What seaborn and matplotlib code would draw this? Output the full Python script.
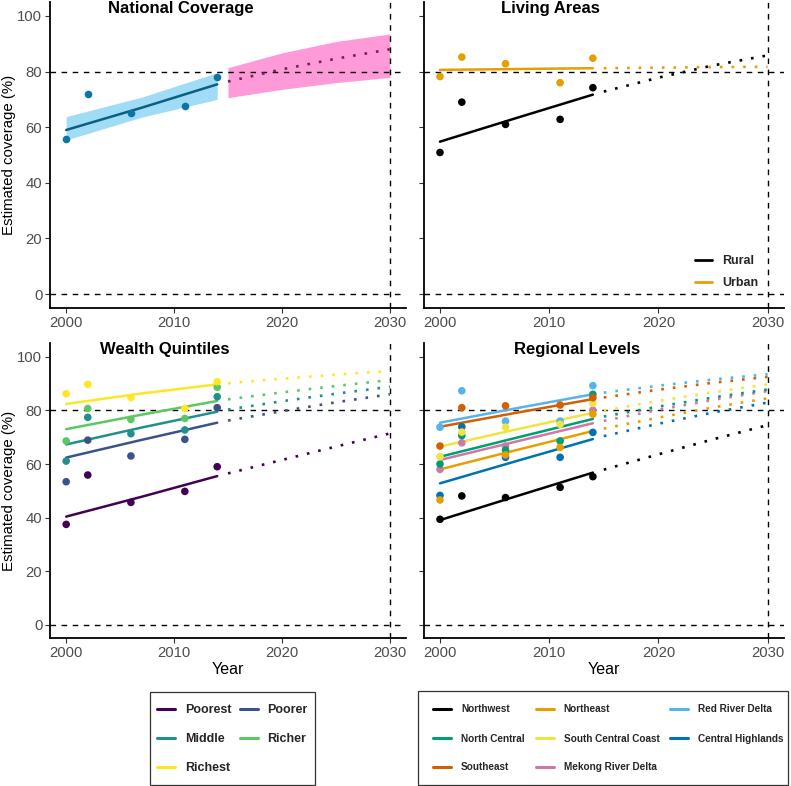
import matplotlib
matplotlib.use("Agg")
import matplotlib.pyplot as plt
from matplotlib.lines import Line2D
from matplotlib.patches import Rectangle
import numpy as np
import pandas as pd
import seaborn as sns

# ---------------- data ----------------
survey_years = [2000, 2002, 2006, 2011, 2014]
fit_years = [2000, 2007, 2014]
proj_years = [2015, 2020, 2025, 2030]

national_obs = [55.8, 72.0, 65.0, 67.7, 77.9]
national_fit = [59.0, 67.0, 75.4]
national_fit_lo = [55.4, 63.6, 70.0]
national_fit_hi = [63.8, 70.8, 79.6]
national_proj = [76.4, 80.8, 84.6, 88.0]
national_proj_lo = [70.6, 73.6, 76.0, 77.9]
national_proj_hi = [81.4, 86.7, 90.8, 93.5]

area_names = ["Rural", "Urban"]
area_obs = {"Rural": [50.9, 69.0, 61.0, 62.8, 74.2],
            "Urban": [78.2, 85.2, 82.8, 76.0, 84.8]}
area_fit = {"Rural": [54.8, 63.3, 71.7],
            "Urban": [80.6, 80.9, 81.2]}
area_proj = {"Rural": [72.8, 77.8, 82.2, 85.8],
             "Urban": [81.2, 81.4, 81.6, 81.7]}

wealth_names = ["Poorest", "Poorer", "Middle", "Richer", "Richest"]
wealth_obs = {"Poorest": [37.5, 55.9, 45.7, 49.8, 59.0],
              "Poorer": [53.4, 68.9, 63.0, 69.2, 81.0],
              "Middle": [61.1, 77.4, 71.3, 72.7, 85.1],
              "Richer": [68.6, 80.7, 76.6, 77.0, 88.6],
              "Richest": [86.2, 89.7, 84.8, 80.7, 90.7]}
wealth_fit = {"Poorest": [40.4, 47.8, 55.5],
              "Poorer": [62.4, 69.0, 75.4],
              "Middle": [67.3, 73.6, 79.5],
              "Richer": [73.0, 78.4, 83.5],
              "Richest": [82.4, 86.3, 89.7]}
wealth_proj = {"Poorest": [56.5, 61.5, 66.5, 71.4],
               "Poorer": [76.2, 79.7, 83.0, 86.0],
               "Middle": [80.3, 83.4, 86.2, 88.8],
               "Richer": [84.1, 86.7, 89.1, 91.3],
               "Richest": [90.1, 91.8, 93.3, 94.7]}

# legend (row-wise) order of regions
region_names = ["Northwest", "Northeast", "Red River Delta", "North Central",
                "South Central Coast", "Central Highlands", "Southeast",
                "Mekong River Delta"]
region_obs = {"Northwest": [39.4, 48.1, 47.5, 51.3, 55.3],
              "Northeast": [46.6, np.nan, 63.4, 66.2, 78.6],
              "Red River Delta": [73.7, 87.3, 76.0, 76.0, 89.2],
              "North Central": [60.0, 70.6, 65.2, 68.6, 86.0],
              "South Central Coast": [62.7, 71.9, 73.7, 74.8, 82.6],
              "Central Highlands": [48.3, 73.9, 62.5, 62.5, 71.8],
              "Southeast": [66.7, 81.0, 81.7, 82.0, 84.7],
              "Mekong River Delta": [58.0, 67.9, 66.7, np.nan, 80.1]}
region_fit = {"Northwest": [39.1, 48.0, 56.8],
              "Northeast": [58.0, 65.2, 72.3],
              "Red River Delta": [75.4, 80.8, 86.0],
              "North Central": [62.7, 69.8, 76.8],
              "South Central Coast": [66.5, 72.9, 79.1],
              "Central Highlands": [52.8, 61.1, 69.3],
              "Southeast": [73.9, 79.1, 84.2],
              "Mekong River Delta": [61.5, 68.4, 75.2]}
region_proj = {"Northwest": [57.9, 63.6, 69.2, 74.5],
               "Northeast": [73.2, 77.3, 81.1, 84.5],
               "Red River Delta": [86.6, 89.2, 91.5, 93.5],
               "North Central": [77.7, 81.4, 84.8, 87.8],
               "South Central Coast": [79.9, 83.5, 86.8, 89.7],
               "Central Highlands": [70.4, 75.0, 79.2, 82.9],
               "Southeast": [84.8, 87.7, 90.3, 92.5],
               "Mekong River Delta": [76.1, 80.2, 83.9, 87.2]}

# ---------------- styles ----------------
area_colors = {"Rural": "#000000", "Urban": "#E69F00"}
wealth_colors = dict(zip(wealth_names, ["#440154", "#3B528B", "#21908C", "#5DC863", "#FDE725"]))
region_colors = dict(zip(region_names, ["#000000", "#E69F00", "#56B4E9", "#009E73",
                                        "#F0E442", "#0072B2", "#D55E00", "#CC79A7"]))
region_draw_order = sorted(region_names)

sns.set_theme(style="white")
plt.rcParams["font.family"] = ["Liberation Sans", "DejaVu Sans"]

W, H = 791, 786
fig = plt.figure(figsize=(W / 100, H / 100), dpi=100)
fig.patch.set_facecolor("white")


def add_ax(l, t, r, b):
    return fig.add_axes([l / W, 1 - b / H, (r - l) / W, (b - t) / H])


ax_tl = add_ax(50, 2, 406, 308)
ax_tr = add_ax(423.6, 2, 784, 308)
ax_bl = add_ax(50, 343.3, 406, 638.4)
ax_br = add_ax(423.6, 343.3, 784, 638.4)

PT = 30          # point size
LW = 1.8         # fitted line width
DLW = 1.9        # dotted projection width
DOT = (0, (1, 3.4))


def style(ax, ylab=True, xlab=False):
    ax.set_xlim(1998.5, 2031.5)
    ax.set_ylim(-5, 105)
    ax.set_xticks([2000, 2010, 2020, 2030])
    ax.set_yticks([0, 20, 40, 60, 80, 100])
    ax.grid(False)
    ax.set_facecolor("white")
    for s in ["top", "right"]:
        ax.spines[s].set_visible(False)
    for s in ["left", "bottom"]:
        ax.spines[s].set_color("black")
        ax.spines[s].set_linewidth(1.3)
    ax.tick_params(axis="both", which="major", direction="out", length=3.5, width=0.8,
                   color="#333333", labelcolor="#4D4D4D", labelsize=10.7, pad=2,
                   left=True, bottom=True)
    if not ylab:
        ax.tick_params(labelleft=False)
        ax.set_ylabel("")
    else:
        ax.set_ylabel("Estimated coverage (%)", fontsize=10.8, color="black",
                      va="center", rotation_mode="anchor")
        ax.yaxis.set_label_coords((9.0 - 50) / 356, 0.5)
    if xlab:
        ax.set_xlabel("Year", fontsize=11.5, color="black", labelpad=1.5)
    else:
        ax.set_xlabel("")
    for yv in (0, 80):
        ax.axhline(yv, color="black", lw=1.0, ls=(0, (4, 4)), zorder=1.5)
    ax.axvline(2030, color="black", lw=1.0, ls=(0, (4, 4)), zorder=1.5)


def long_df(d, names, years):
    rows = []
    for n in names:
        for yr, v in zip(years, d[n]):
            rows.append({"Year": yr, "Coverage": v, "Group": n})
    return pd.DataFrame(rows).dropna()


# ---------- National ----------
ax = ax_tl
ax.fill_between(fit_years, national_fit_lo, national_fit_hi, color="#A0DCF5", lw=0, zorder=1)
ax.fill_between(proj_years, national_proj_lo, national_proj_hi, color="#FF9AD9", lw=0, zorder=1)
nat_fit_df = pd.DataFrame({"Year": fit_years, "Coverage": national_fit})
nat_proj_df = pd.DataFrame({"Year": proj_years, "Coverage": national_proj})
nat_obs_df = pd.DataFrame({"Year": survey_years, "Coverage": national_obs})
sns.lineplot(data=nat_fit_df, x="Year", y="Coverage", color="#0B5F80", lw=LW, ax=ax, zorder=2)
sns.lineplot(data=nat_proj_df, x="Year", y="Coverage", color="#74205A", lw=DLW,
             linestyle=DOT, ax=ax, zorder=2)
sns.scatterplot(data=nat_obs_df, x="Year", y="Coverage", color="#0A76A3", s=PT,
                linewidth=0, ax=ax, zorder=3)
style(ax, ylab=True)

# ---------- Living areas ----------
ax = ax_tr
sns.lineplot(data=long_df(area_fit, area_names, fit_years), x="Year", y="Coverage",
             hue="Group", palette=area_colors, hue_order=area_names, lw=LW, ax=ax,
             legend=False, zorder=2)
sns.lineplot(data=long_df(area_proj, area_names, proj_years), x="Year", y="Coverage",
             hue="Group", palette=area_colors, hue_order=area_names, lw=DLW,
             linestyle=DOT, ax=ax, legend=False, zorder=2)
sns.scatterplot(data=long_df(area_obs, area_names, survey_years), x="Year", y="Coverage",
                hue="Group", palette=area_colors, hue_order=area_names, s=PT, linewidth=0,
                ax=ax, legend=False, zorder=3)
style(ax, ylab=False)
h_area = [Line2D([], [], color=area_colors[n], lw=2.0) for n in area_names]
leg = ax.legend(h_area, area_names, loc="upper left", frameon=False,
                bbox_to_anchor=(695 / W, 1 - 255 / H), bbox_transform=fig.transFigure,
                prop={"weight": "bold", "size": 9}, handlelength=1.36, handletextpad=0.8,
                labelspacing=0.8, borderpad=0, borderaxespad=0)

# ---------- Wealth ----------
ax = ax_bl
sns.lineplot(data=long_df(wealth_fit, wealth_names, fit_years), x="Year", y="Coverage",
             hue="Group", palette=wealth_colors, hue_order=wealth_names, lw=LW, ax=ax,
             legend=False, zorder=2)
sns.lineplot(data=long_df(wealth_proj, wealth_names, proj_years), x="Year", y="Coverage",
             hue="Group", palette=wealth_colors, hue_order=wealth_names, lw=DLW,
             linestyle=DOT, ax=ax, legend=False, zorder=2)
sns.scatterplot(data=long_df(wealth_obs, wealth_names, survey_years), x="Year", y="Coverage",
                hue="Group", palette=wealth_colors, hue_order=wealth_names, s=PT, linewidth=0,
                ax=ax, legend=False, zorder=3)
style(ax, ylab=True, xlab=True)

# ---------- Regions ----------
ax = ax_br
sns.lineplot(data=long_df(region_fit, region_draw_order, fit_years), x="Year", y="Coverage",
             hue="Group", palette=region_colors, hue_order=region_draw_order, lw=LW, ax=ax,
             legend=False, zorder=2)
sns.lineplot(data=long_df(region_proj, region_draw_order, proj_years), x="Year", y="Coverage",
             hue="Group", palette=region_colors, hue_order=region_draw_order, lw=DLW,
             linestyle=DOT, ax=ax, legend=False, zorder=2)
sns.scatterplot(data=long_df(region_obs, region_draw_order, survey_years), x="Year",
                y="Coverage", hue="Group", palette=region_colors,
                hue_order=region_draw_order, s=PT, linewidth=0, ax=ax, legend=False, zorder=3)
style(ax, ylab=False, xlab=True)

# ---------- titles ----------
for txt, cx, cy in [("National Coverage", 181, 8), ("Living Areas", 550, 8),
                    ("Wealth Quintiles", 165, 349), ("Regional Levels", 577, 349)]:
    fig.text(cx / W, 1 - cy / H, txt, ha="center", va="center", fontsize=12,
             fontweight="bold", color="black")

# ---------- bottom legends ----------
def col_major(items, ncol):
    nrow = int(np.ceil(len(items) / ncol))
    out = []
    for c in range(ncol):
        for r in range(nrow):
            i = r * ncol + c
            if i < len(items):
                out.append(items[i])
    return out

w_order = col_major(wealth_names, 2)
h_w = [Line2D([], [], color=wealth_colors[n], lw=2.2) for n in w_order]
leg_w = fig.legend(h_w, w_order, loc="upper left", ncol=2, frameon=False,
                   bbox_to_anchor=(157 / W, 1 - 704 / H),
                   prop={"weight": "bold", "size": 9}, handlelength=1.44, handletextpad=0.8,
                   columnspacing=0.65, labelspacing=1.37, borderpad=0, borderaxespad=0)
fig.patches.append(Rectangle((150 / W, 1 - 785 / H), 165 / W, 93 / H, transform=fig.transFigure,
                             fill=False, edgecolor="#333333", lw=0.9))

r_order = col_major(region_names, 3)
h_r = [Line2D([], [], color=region_colors[n], lw=2.2) for n in r_order]
leg_r = fig.legend(h_r, r_order, loc="upper left", ncol=3, frameon=False,
                   bbox_to_anchor=(433 / W, 1 - 704.5 / H),
                   prop={"weight": "bold", "size": 7.2}, handlelength=1.8, handletextpad=1.0,
                   columnspacing=1.1, labelspacing=1.9, borderpad=0, borderaxespad=0)
fig.patches.append(Rectangle((418 / W, 1 - 785 / H), 370 / W, 94 / H, transform=fig.transFigure,
                             fill=False, edgecolor="#333333", lw=0.9))

fig.savefig("out.png", dpi=100, facecolor="white")
